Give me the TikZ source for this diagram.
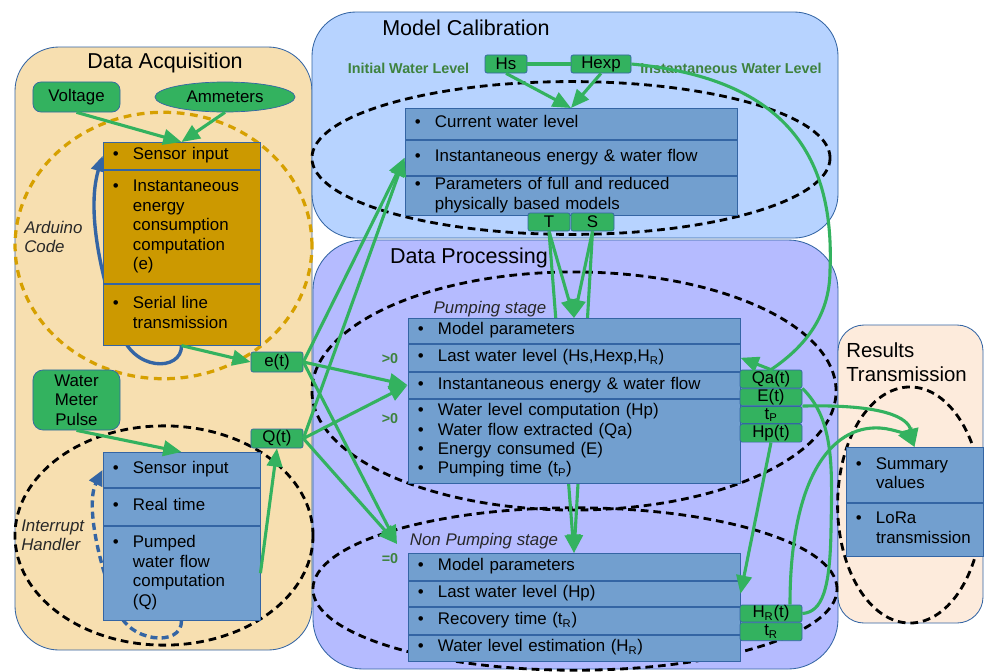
\documentclass[tikz,border=0pt]{standalone}
\usepackage{fontspec}
\setmainfont{Liberation Sans}
\usetikzlibrary{positioning,shapes.geometric,arrows.meta}

\definecolor{acqfill}{RGB}{247,223,176}
\definecolor{calfill}{RGB}{183,211,255}
\definecolor{procfill}{RGB}{181,187,255}
\definecolor{resfill}{RGB}{253,235,220}
\definecolor{edgeblue}{RGB}{52,101,164}
\definecolor{rowblue}{RGB}{114,159,207}
\definecolor{rowgold}{RGB}{204,153,0}
\definecolor{taggreen}{RGB}{51,178,95}
\definecolor{ringgold}{RGB}{214,160,0}
\definecolor{notegreen}{RGB}{62,130,62}
\definecolor{stagegray}{RGB}{40,40,40}

\newcommand{\bodyfont}{\fontsize{12}{13.8}\selectfont}
\newcommand{\bitem}[1]{\noindent\makebox[0.5cm][l]{\textbullet}\begin{tabular}[t]{@{}l@{}}#1\end{tabular}}

\pgfdeclarelayer{panels}
\pgfdeclarelayer{behind}
\pgfsetlayers{panels,behind,main}

\tikzset{
  panel/.style={draw=edgeblue, line width=0.6pt, rounded corners=1.1cm},
  paneltitle/.style={font=\fontsize{15.3}{17}\selectfont, inner sep=0pt},
  cellrow/.style={draw=edgeblue, line width=0.6pt, inner xsep=0.25cm, inner ysep=0pt, align=left, font=\bodyfont},
  ardrow/.style={cellrow, fill=rowgold, text width=3.425cm},
  introw/.style={cellrow, fill=rowblue, text width=3.425cm},
  widerow/.style={cellrow, fill=rowblue, text width=7.8cm},
  resrow/.style={cellrow, fill=rowblue, text width=2.925cm},
  tag/.style={draw=edgeblue, line width=0.5pt, fill=taggreen, rounded corners=1.5pt, inner sep=0pt, font=\bodyfont, align=center},
  note/.style={text=notegreen, font=\fontsize{10.2}{12}\selectfont\bfseries, inner sep=0pt},
  stage/.style={text=stagegray, font=\bodyfont\itshape, inner sep=0pt, align=left},
  ring/.style={draw=black, line width=2pt, dash pattern=on 5.5pt off 3.5pt},
  goldring/.style={draw=ringgold, line width=2.3pt, dash pattern=on 5.5pt off 4pt},
  flow/.style={draw=taggreen, line width=2.2pt, -{Triangle[length=13pt,width=11pt]}},
  flowline/.style={draw=taggreen, line width=2.2pt},
  loopline/.style={draw=edgeblue, line width=2.4pt, -{Triangle[length=11pt,width=10pt]}}
}

\begin{document}
\begin{tikzpicture}[x=0.025cm, y=-0.025cm]
  \path[use as bounding box] (0,0) rectangle (985,671);

  % Data acquisition
  \node[ardrow, anchor=north, minimum height=0.675cm] (ard1) at (181.5,142) {\bitem{Sensor input}};
  \node[ardrow, below=0pt of ard1, minimum height=2.825cm] (ard2) {\bitem{Instantaneous\\energy\\consumption\\computation\\(e)}};
  \node[ardrow, below=0pt of ard2, minimum height=1.525cm] (ard3) {\bitem{Serial line\\transmission}};
  \node[introw, anchor=north, minimum height=0.875cm] (int1) at (181.5,452) {\bitem{Sensor input}};
  \node[introw, below=0pt of int1, minimum height=0.925cm] (int2) {\bitem{Real time}};
  \node[introw, below=0pt of int2, minimum height=2.35cm] (int3) {\bitem{Pumped\\water flow\\computation\\(Q)}};
  \node[tag, minimum width=2.175cm, minimum height=0.75cm, rounded corners=0.2cm] (volt) at (76.5,97) {Voltage};
  \node[tag, ellipse, minimum width=3.5cm, minimum height=0.75cm] (amm) at (225,97) {Ammeters};
  \node[tag, minimum width=2.175cm, minimum height=1.5cm, rounded corners=0.25cm] (wmp) at (76.5,400) {Water\\Meter\\Pulse};
  \node[tag, minimum width=1.3cm, minimum height=0.5cm] (esig) at (277,362) {e(t)};
  \node[tag, minimum width=1.3cm, minimum height=0.475cm] (qsig) at (277,438.5) {Q(t)};
  \node[stage, anchor=west] (arlabel) at (24,237) {Arduino\\Code};
  \node[stage, anchor=west] (ihlabel) at (21,535) {Interrupt\\Handler};
  \node[paneltitle] (acqtitle) at (165,63) {Data Acquisition};

  % Model calibration
  \node[widerow, anchor=north, minimum height=0.775cm] (cal1) at (571,108) {\bitem{Current water level}};
  \node[widerow, below=0pt of cal1, minimum height=0.875cm] (cal2) {\bitem{Instantaneous energy \& water flow}};
  \node[widerow, below=0pt of cal2, minimum height=0.95cm] (cal3) {\bitem{Parameters of full and reduced\\physically based models}};
  \node[tag, minimum width=1.05cm, minimum height=0.45cm] (hs) at (506,64) {Hs};
  \node[tag, minimum width=1.5cm, minimum height=0.45cm] (hexp) at (601,64) {Hexp};
  \node[tag, minimum width=1.05cm, minimum height=0.45cm] (tpar) at (549,222) {T};
  \node[tag, minimum width=1.075cm, minimum height=0.45cm] (spar) at (592.5,222) {S};
  \node[note] (initlabel) at (408.5,68) {Initial Water Level};
  \node[note] (instlabel) at (731,68) {Instantaneous Water Level};
  \node[paneltitle] (caltitle) at (466,28) {Model Calibration};

  % Data processing
  \node[widerow, anchor=north, minimum height=0.625cm] (p1) at (574,318) {\bitem{Model parameters}};
  \node[widerow, below=0pt of p1, minimum height=0.675cm] (p2) {\bitem{Last water level (Hs,Hexp,H\textsubscript{R})}};
  \node[widerow, below=0pt of p2, minimum height=0.65cm] (p3) {\bitem{Instantaneous energy \& water flow}};
  \node[widerow, below=0pt of p3, minimum height=2.1cm] (p4) {\bitem{Water level computation (Hp)}\\\bitem{Water flow extracted (Qa)}\\\bitem{Energy consumed (E)}\\\bitem{Pumping time (t\textsubscript{P})}};
  \node[widerow, anchor=north, minimum height=0.675cm] (np1) at (574,553) {\bitem{Model parameters}};
  \node[widerow, below=0pt of np1, minimum height=0.625cm] (np2) {\bitem{Last water level (Hp)}};
  \node[widerow, below=0pt of np2, minimum height=0.675cm] (np3) {\bitem{Recovery time (t\textsubscript{R})}};
  \node[widerow, below=0pt of np3, minimum height=0.65cm] (np4) {\bitem{Water level estimation (H\textsubscript{R})}};
  \node[tag, minimum width=1.55cm, minimum height=0.45cm] (qat) at (771,379) {Qa(t)};
  \node[tag, below=0pt of qat, minimum width=1.55cm, minimum height=0.425cm] (energy) {E(t)};
  \node[tag, below=0pt of energy, minimum width=1.55cm, minimum height=0.425cm] (tpump) {t\textsubscript{P}};
  \node[tag, below=0pt of tpump, minimum width=1.55cm, minimum height=0.45cm] (hpt) {Hp(t)};
  \node[tag, minimum width=1.55cm, minimum height=0.425cm] (hrt) at (771,613.5) {H\textsubscript{R}(t)};
  \node[tag, below=0pt of hrt, minimum width=1.55cm, minimum height=0.45cm] (trec) {t\textsubscript{R}};
  \node[stage] (pumplabel) at (490,309) {Pumping stage};
  \node[stage] (nplabel) at (484,541) {Non Pumping stage};
  \node[note] (gtone) at (390,359) {>0};
  \node[note] (gttwo) at (390,419) {>0};
  \node[note] (eqzero) at (390,559) {=0};
  \node[paneltitle] (proctitle) at (469,258) {Data Processing};

  % Results transmission
  \node[resrow, anchor=north, minimum height=1.375cm] (res1) at (914.5,447) {\bitem{Summary\\values}};
  \node[resrow, below=0pt of res1, minimum height=1.325cm] (res2) {\bitem{LoRa\\transmission}};
  \node[paneltitle, anchor=west, align=left, font=\fontsize{14.5}{17}\selectfont] (restitle) at (846,362) {Results\\Transmission};

  % panels and stage rings
  \begin{pgfonlayer}{panels}
    \fill[white] (0,0) rectangle (985,671);
    \draw[panel, fill=acqfill] (15,47) rectangle (312,650);
    \draw[panel, fill=calfill] (312,12) rectangle (838,238);
    \draw[panel, fill=procfill, rounded corners=1.25cm] (313,240) rectangle (838,669);
    \draw[panel, fill=resfill, rounded corners=0.65cm] (838,325) rectangle (983,623);
    \draw[goldring] (163.5,245.5) ellipse [x radius=3.71cm, y radius=3.33cm];
    \draw[ring] (164,535.5) ellipse [x radius=3.725cm, y radius=2.74cm];
    \draw[ring] (571,158) ellipse [x radius=6.475cm, y radius=1.91cm];
    \draw[ring] (574,391) ellipse [x radius=6.55cm, y radius=2.975cm];
    \draw[ring] (575,589) ellipse [x radius=6.55cm, y radius=2.03cm];
    \draw[ring] (910,505) ellipse [x radius=1.81cm, y radius=2.95cm];
  \end{pgfonlayer}

  % lines running behind the boxes
  \begin{pgfonlayer}{behind}
    \draw[loopline] (ard3.south) .. controls (182,372) and (132,372) .. (120,330) .. controls (105,290) and (85,215) .. (ard1.west);
    \draw[loopline, dash pattern=on 5pt off 3pt] (int3.south) .. controls (182,648) and (128,642) .. (118,610) .. controls (100,570) and (85,505) .. (int1.west);
    \foreach \src in {tpar,spar} \draw[flow] (\src.south) -- (np1.north);
  \end{pgfonlayer}

  % connectors
  \draw[flow] (volt.south) -- (ard1.north);
  \draw[flow] (amm.south) -- (ard1.north);
  \draw[flow] (ard3.south) -- (esig.west);
  \draw[flow] (wmp.south) -- (int1.north);
  \draw[flow] (int3.east) -- (qsig.south);
  \coordinate (npin) at (397,544);
  \foreach \src in {esig,qsig} {
    \draw[flow] (\src.east) -- (cal2.west);
    \draw[flow] (\src.east) -- (p3.west);
    \draw[flow] (\src.east) -- (npin);
  }
  \draw[flow] (hs.south) -- (cal1.north);
  \draw[flow] (hexp.south) -- (cal1.north);
  \draw[flowline] (hs.east) -- (hexp.west);
  \draw[flow] (hexp.east) .. controls (780,78) and (835,150) .. (830,270) .. controls (830,320) and (800,350) .. (qat.north) -- (p2.east);
  \foreach \src in {tpar,spar} \draw[flow] (\src.south) -- (p1.north);
  \draw[flowline] (qat.south east) .. controls (835,420) and (832,470) .. (831,530) .. controls (830,590) and (822,612) .. (hrt.east);
  \draw[flow] (hrt.25) .. controls (790,480) and (830,425) .. (880,428) .. controls (895,429) and (908,436) .. (res1.north);
  \draw[flow] (energy.south east) .. controls (885,404) and (908,418) .. (res1.north);
  \draw[flow] (hpt.south) -- (np2.east);
\end{tikzpicture}
\end{document}
